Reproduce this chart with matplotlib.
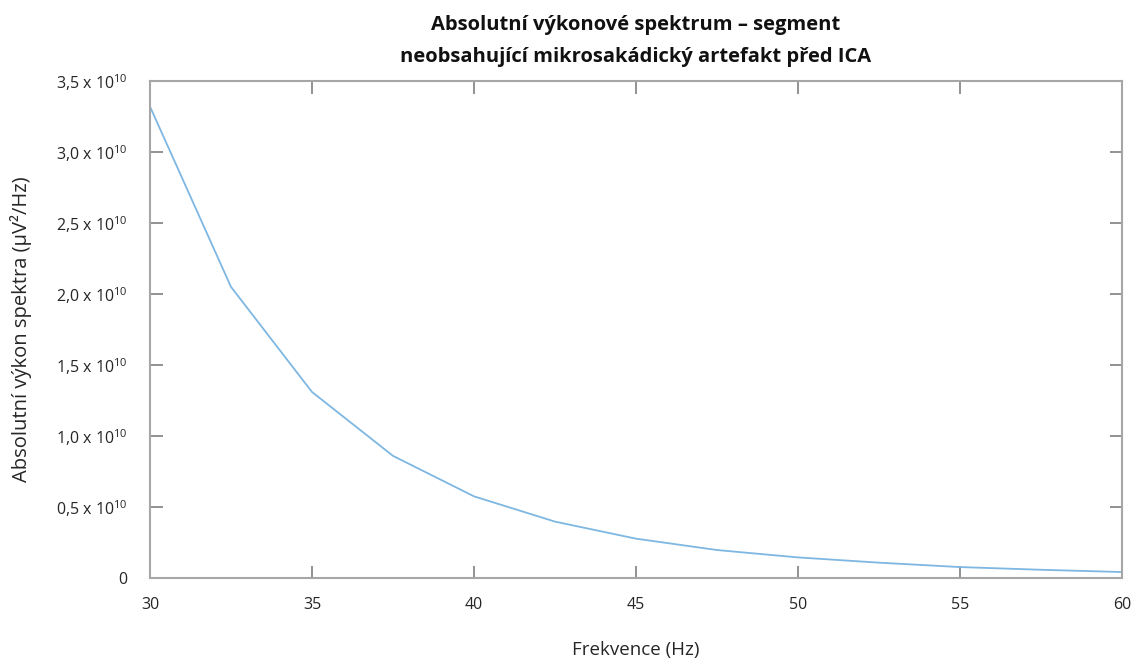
import matplotlib
matplotlib.use("Agg")
import matplotlib.pyplot as plt
from matplotlib.ticker import FixedLocator, FuncFormatter

plt.rcParams['font.family'] = ['Open Sans', 'DejaVu Sans']
plt.rcParams['mathtext.fontset'] = 'custom'
plt.rcParams['mathtext.rm'] = 'Open Sans'

# Power spectrum samples (2.5 Hz step)
freq_hz = [30, 32.5, 35, 37.5, 40, 42.5, 45, 47.5, 50, 52.5, 55, 57.5, 60]
power_e10 = [3.32, 2.05, 1.31, 0.86, 0.575, 0.397, 0.277, 0.197, 0.145,
             0.108, 0.077, 0.058, 0.042]
power = [v * 1e10 for v in power_e10]

x_ticks = [30, 35, 40, 45, 50, 55, 60]
y_ticks_e10 = [0, 0.5, 1.0, 1.5, 2.0, 2.5, 3.0, 3.5]

title = "Absolutní výkonové spektrum – segment\nneobsahující mikrosakádický artefakt před ICA"
x_label = "Frekvence (Hz)"
y_label = "Absolutní výkon spektra (μV²/Hz)"

fig = plt.figure(figsize=(11.31, 6.59), dpi=100)
ax = fig.add_axes([150 / 1131, 1 - 578 / 659, (1122 - 150) / 1131, (578 - 81) / 659])

ax.plot(freq_hz, power, color='#7db7e2', linewidth=1.3)

ax.set_xlim(30, 60)
ax.set_ylim(0, 3.5e10)

ax.xaxis.set_major_locator(FixedLocator(x_ticks))
ax.yaxis.set_major_locator(FixedLocator([v * 1e10 for v in y_ticks_e10]))


def fmt_y(val, pos):
    v = val / 1e10
    if abs(v) < 1e-9:
        return "0"
    return ("%.1f" % v).replace('.', ',') + r" x 10$^{\mathregular{10}}$"


ax.yaxis.set_major_formatter(FuncFormatter(fmt_y))
ax.xaxis.set_major_formatter(FuncFormatter(lambda v, p: "%d" % v))

grey = '#a6a6a6'
for s in ax.spines.values():
    s.set_color(grey)
    s.set_linewidth(1.5)

ax.tick_params(axis='both', direction='in', length=9, width=1.2, color='#7f7f7f',
               labelsize=11.5, labelcolor='#262626', top=True, right=True)
ax.tick_params(axis='x', pad=14)
ax.tick_params(axis='y', pad=16)

ax.set_title(title, fontsize=14.5, fontweight='bold', color='#111111',
             linespacing=1.75, pad=14)
ax.set_xlabel(x_label, fontsize=13.5, color='#262626', labelpad=20)
ax.set_ylabel(y_label, fontsize=14.5, color='#262626', labelpad=17)

fig.savefig("out.png", dpi=100, facecolor='white')
